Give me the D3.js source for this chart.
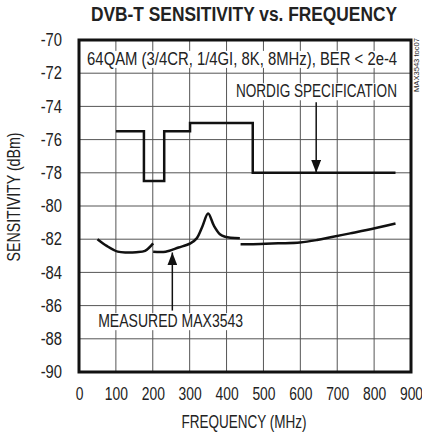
<!DOCTYPE html>
<html>
<head>
<meta charset="utf-8">
<script src="https://cdn.jsdelivr.net/npm/d3@7"></script>
<style>
body { margin: 0; background: #fff; }
text { font-family: "Liberation Sans", Arial, sans-serif; fill: #222; }
</style>
</head>
<body>
<svg id="chart"></svg>
<script>
// data
const nordigSpec = [
    [100, -75.5], [176, -75.5], [176, -78.5], [231, -78.5], [231, -75.5],
    [301, -75.5], [301, -75], [471, -75], [471, -78], [858, -78]
];
const measuredA = [
    [50, -82], [75, -82.4], [105, -82.75], [130, -82.8], [155, -82.78], [179, -82.7], [201, -82.25]
];
const measuredB = [
    [201, -82.75], [235, -82.75], [270, -82.5], [302, -82.25], [319, -81.95],
    [335, -81.2], [350, -80.45], [366, -81.2], [382, -81.7], [396, -81.85], [436, -81.95]
];
const measuredC = [
    [438, -82.3], [472, -82.3], [540, -82.25], [599, -82.2], [645, -82.05],
    [689, -81.85], [735, -81.65], [780, -81.45], [858, -81.05]
];
const xTicks = [0, 100, 200, 300, 400, 500, 600, 700, 800, 900];
const yTicks = [-70, -72, -74, -76, -78, -80, -82, -84, -86, -88, -90];

const margin = {top: 40, right: 11, bottom: 63, left: 79};
const width = 422;
const height = 435;
const plotW = width - margin.left - margin.right;
const plotH = height - margin.top - margin.bottom;

// squeeze text to look like a narrow face
function narrow(sel, factor) {
    sel.each(function() {
        const w = this.getComputedTextLength();
        d3.select(this).attr('textLength', w * factor).attr('lengthAdjust', 'spacingAndGlyphs');
    });
}
function fitTo(sel, len) {
    sel.attr('textLength', len).attr('lengthAdjust', 'spacingAndGlyphs');
}

const svg = d3.select('#chart')
    .attr('width', width)
    .attr('height', height);

svg.append('text')
    .attr('x', 244)
    .attr('y', 21)
    .attr('text-anchor', 'middle')
    .style('font-size', '19.5px')
    .style('font-weight', 'bold')
    .text('DVB-T SENSITIVITY vs. FREQUENCY')
    .call(fitTo, 306);

const g = svg.append('g')
    .attr('transform', 'translate(' + margin.left + ',' + margin.top + ')');

const x = d3.scaleLinear().domain([0, 900]).range([0, plotW]);
const y = d3.scaleLinear().domain([-90, -70]).range([plotH, 0]);

// grid
g.append('g')
    .selectAll('line')
    .data(xTicks.slice(1, -1))
    .enter()
    .append('line')
    .attr('x1', d => x(d)).attr('x2', d => x(d))
    .attr('y1', 0).attr('y2', plotH)
    .attr('stroke', '#555').attr('stroke-width', 1);
g.append('g')
    .selectAll('line')
    .data(yTicks.slice(1, -1))
    .enter()
    .append('line')
    .attr('x1', 0).attr('x2', plotW)
    .attr('y1', d => y(d)).attr('y2', d => y(d))
    .attr('stroke', '#555').attr('stroke-width', 1);

// axes labels
const xAxis = g.append('g')
    .attr('transform', 'translate(0,' + plotH + ')')
    .call(d3.axisBottom(x).tickValues(xTicks).tickSize(0).tickPadding(15));
xAxis.select('.domain').remove();
xAxis.selectAll('text').style('font-size', '18px').style('fill', '#222').call(narrow, 0.77);

const yAxis = g.append('g')
    .call(d3.axisLeft(y).tickValues(yTicks).tickSize(0).tickPadding(17)
        .tickFormat(d => '-' + Math.abs(d)));
yAxis.select('.domain').remove();
yAxis.selectAll('text').style('font-size', '18px').style('fill', '#222').call(narrow, 0.82);

svg.append('text')
    .attr('x', 244)
    .attr('y', 428)
    .attr('text-anchor', 'middle')
    .style('font-size', '18px')
    .text('FREQUENCY (MHz)')
    .call(fitTo, 125);

svg.append('text')
    .attr('transform', 'translate(20,197)rotate(-90)')
    .attr('text-anchor', 'middle')
    .style('font-size', '18px')
    .text('SENSITIVITY (dBm)')
    .call(fitTo, 129);

svg.append('text')
    .attr('transform', 'translate(419,38)rotate(-90)')
    .attr('text-anchor', 'end')
    .style('font-size', '8px')
    .text('MAX3543 toc07')
    .call(fitTo, 54);

// annotation text with white backing
function label(txt, px, py, anchor, len) {
    const t = g.append('text')
        .attr('x', px).attr('y', py)
        .attr('text-anchor', anchor)
        .style('font-size', '18px')
        .text(txt)
        .call(fitTo, len);
    const b = t.node().getBBox();
    g.insert('rect', () => t.node())
        .attr('x', b.x - 3).attr('y', b.y + 2)
        .attr('width', b.width + 6).attr('height', b.height - 3)
        .attr('fill', '#fff');
}
label('64QAM (3/4CR, 1/4GI, 8K, 8MHz), BER < 2e-4', x(22), y(-71.5), 'start', 310);
label('NORDIG SPECIFICATION', x(862), y(-73.45), 'end', 161);
label('MEASURED MAX3543', x(52), y(-87.3), 'start', 145);

// arrows
g.append('defs').append('marker')
    .attr('id', 'head')
    .attr('viewBox', '0 0 10 10')
    .attr('refX', 10).attr('refY', 5)
    .attr('markerWidth', 13).attr('markerHeight', 10)
    .attr('markerUnits', 'userSpaceOnUse')
    .attr('orient', 'auto')
    .attr('preserveAspectRatio', 'none')
    .append('path')
    .attr('d', 'M0,0L10,5L0,10Z')
    .attr('fill', '#111');

g.append('line')
    .attr('x1', x(643)).attr('x2', x(643))
    .attr('y1', y(-73.75)).attr('y2', y(-78))
    .attr('stroke', '#111').attr('stroke-width', 1.5)
    .attr('marker-end', 'url(#head)');
g.append('line')
    .attr('x1', x(253)).attr('x2', x(253))
    .attr('y1', y(-86.3)).attr('y2', y(-82.8))
    .attr('stroke', '#111').attr('stroke-width', 1.5)
    .attr('marker-end', 'url(#head)');

// series
const lineStep = d3.line().x(d => x(d[0])).y(d => y(d[1]));
const lineCurve = d3.line().x(d => x(d[0])).y(d => y(d[1])).curve(d3.curveCatmullRom);

g.append('path')
    .attr('d', lineStep(nordigSpec))
    .attr('fill', 'none').attr('stroke', '#111').attr('stroke-width', 2.5);

[measuredA, measuredB, measuredC].forEach(function(seg) {
    g.append('path')
        .attr('d', lineCurve(seg))
        .attr('fill', 'none').attr('stroke', '#111').attr('stroke-width', 2.5);
});

// frame
g.append('rect')
    .attr('x', 0).attr('y', 0)
    .attr('width', plotW).attr('height', plotH)
    .attr('fill', 'none').attr('stroke', '#111').attr('stroke-width', 3);
</script>
</body>
</html>
